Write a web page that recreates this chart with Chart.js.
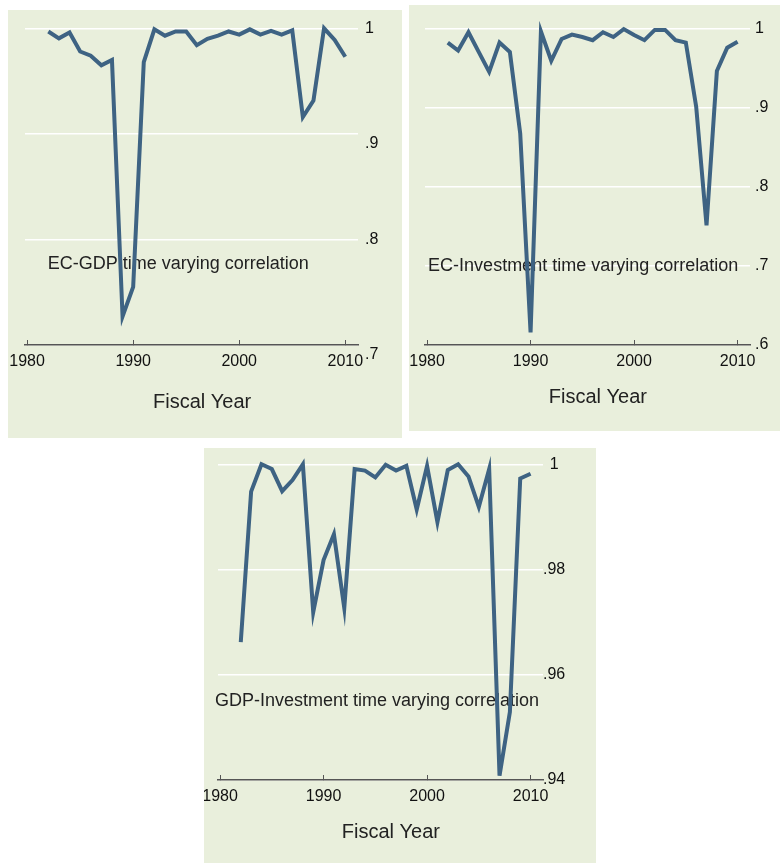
<!DOCTYPE html>
<html>
<head>
<meta charset="utf-8">
<title>Time varying correlations</title>
<script src="https://cdn.jsdelivr.net/npm/chart.js@4.4.1/dist/chart.umd.min.js"></script>
<style>
  html, body { margin: 0; background: #fff; }
  canvas.panel { position: absolute; background: #e9efdc; }
</style>
</head>
<body>
<canvas id="ecGdp" class="panel" style="left:8px;top:10px" width="394" height="428"></canvas>
<canvas id="ecInv" class="panel" style="left:409px;top:5px" width="371" height="426"></canvas>
<canvas id="gdpInv" class="panel" style="left:204px;top:448px" width="392" height="415"></canvas>
<script>
// fiscal years on the x axis
const years = [1982, 1983, 1984, 1985, 1986, 1987, 1988, 1989, 1990, 1991,
  1992, 1993, 1994, 1995, 1996, 1997, 1998, 1999, 2000, 2001,
  2002, 2003, 2004, 2005, 2006, 2007, 2008, 2009, 2010];

// correlations
const ecGdpCorr = [0.997, 0.9905, 0.996, 0.978, 0.974, 0.965, 0.970, 0.727, 0.755, 0.968,
  0.999, 0.993, 0.997, 0.997, 0.984, 0.990, 0.993, 0.997, 0.994, 0.999,
  0.994, 0.9975, 0.994, 0.998, 0.916, 0.9315, 1.0, 0.989, 0.973];
const ecInvCorr = [0.982, 0.972, 0.995, 0.970, 0.945, 0.982, 0.970, 0.867, 0.616, 0.996,
  0.959, 0.9865, 0.992, 0.989, 0.985, 0.995, 0.989, 0.999, 0.9915, 0.985,
  0.998, 0.998, 0.985, 0.982, 0.901, 0.751, 0.946, 0.9755, 0.983];
const gdpInvCorr = [0.9662, 0.9948, 1.0, 0.9991, 0.9949, 0.997, 1.0, 0.9719, 0.9818, 0.9867,
  0.9727, 0.9991, 0.9988, 0.9975, 0.9999, 0.9988, 0.9997, 0.9914, 0.9997, 0.989,
  0.9989, 1.0, 0.9977, 0.9919, 0.9991, 0.9408, 0.9529, 0.9973, 0.9982];

// axis ticks
const xTicks = [1980, 1990, 2000, 2010];
const ecGdpTicks = [0.7, 0.8, 0.9, 1];
const ecGdpLabels = [["", ".7"], ".8", ["", ".9"], "1"]; // first panel prints .7 and .9 a bit low
const ecInvTicks = [0.6, 0.7, 0.8, 0.9, 1];
const ecInvLabels = [".6", ".7", ".8", ".9", "1"];
const gdpInvTicks = [0.94, 0.96, 0.98, 1];
const gdpInvLabels = [".94", ".96", ".98", "1"];

const X_TITLE = "Fiscal Year";
const FONT = '"Liberation Sans", Arial, sans-serif';
const LINE = "#3e6383";

// caption under the line + x title (Stata centres it a bit right of the axis middle)
const captions = {
  id: "captions",
  beforeDatasetsDraw(chart, args, opts) {
    const { ctx, scales } = chart;
    const x = scales.x, y = scales.y;
    ctx.save();
    ctx.fillStyle = "#222";
    ctx.textBaseline = "middle";
    ctx.font = `18px ${FONT}`;
    ctx.textAlign = "left";
    ctx.fillText(opts.text, x.getPixelForValue(opts.x), y.getPixelForValue(opts.y));
    ctx.font = `20px ${FONT}`;
    ctx.textAlign = "center";
    ctx.fillText(X_TITLE, x.getPixelForValue(1996.5), x.bottom - opts.titleOff);
    ctx.restore();
  },
};

function makePanel(id, values, yTicks, yLabels, p) {
  new Chart(document.getElementById(id), {
    type: "line",
    data: {
      datasets: [{
        data: years.map((yr, i) => ({ x: yr, y: values[i] })),
        borderColor: LINE,
        borderWidth: 4,
        pointRadius: 0,
        tension: 0,
        clip: false,
      }],
    },
    plugins: [captions],
    options: {
      responsive: false,
      animation: false,
      layout: { padding: { left: p.left, top: p.top, right: 0, bottom: 0 } },
      plugins: {
        legend: { display: false },
        tooltip: { enabled: false },
        captions: p.captions,
      },
      scales: {
        x: {
          type: "linear",
          min: 1979.8,
          max: 2011.2,
          afterBuildTicks: (s) => { s.ticks = xTicks.map((v) => ({ value: v })); },
          afterFit: (s) => {
            s.height = p.xHeight;
            // let the end labels hang over, don't shrink the plot for them
            s.paddingLeft = 0;
            s.paddingRight = 0;
          },
          grid: { drawOnChartArea: false, drawTicks: true, tickLength: -5, color: "#555", lineWidth: 1 },
          border: { display: true, color: "#555", width: 1.5 },
          ticks: {
            padding: 12,
            color: "#111",
            maxRotation: 0,
            autoSkip: false,
            font: { size: 16, family: FONT },
            callback: (v) => String(v),
          },
          title: { display: false },
        },
        y: {
          position: "right",
          min: yTicks[0],
          max: yTicks[yTicks.length - 1],
          afterBuildTicks: (s) => { s.ticks = yTicks.map((v) => ({ value: v })); },
          afterFit: (s) => {
            s.width = p.yWidth;
            s.paddingTop = 0;
            s.paddingBottom = 0;
          },
          grid: { color: "#ffffff", lineWidth: 1.5, drawTicks: false },
          border: { display: false },
          ticks: {
            padding: p.yPad,
            crossAlign: p.yAlign,
            color: "#111",
            font: { size: 16, family: FONT },
            callback: (v, i) => yLabels[i],
          },
        },
      },
    },
  });
}

makePanel("ecGdp", ecGdpCorr, ecGdpTicks, ecGdpLabels, {
  left: 17, top: 18.3, yWidth: 44, xHeight: 93, yPad: 7, yAlign: "near",
  captions: { text: "EC-GDP time varying correlation", x: 1981.95, y: 0.7766, titleOff: 36 },
});
makePanel("ecInv", ecInvCorr, ecInvTicks, ecInvLabels, {
  left: 16, top: 23.3, yWidth: 30, xHeight: 86, yPad: 5, yAlign: "near",
  captions: { text: "EC-Investment time varying correlation", x: 1980.1, y: 0.70, titleOff: 34 },
});
makePanel("gdpInv", gdpInvCorr, gdpInvTicks, gdpInvLabels, {
  left: 14, top: 16.3, yWidth: 53, xHeight: 83, yPad: 0, yAlign: "center",
  captions: { text: "GDP-Investment time varying correlation", x: 1979.5, y: 0.9551, titleOff: 31 },
});
</script>
</body>
</html>
